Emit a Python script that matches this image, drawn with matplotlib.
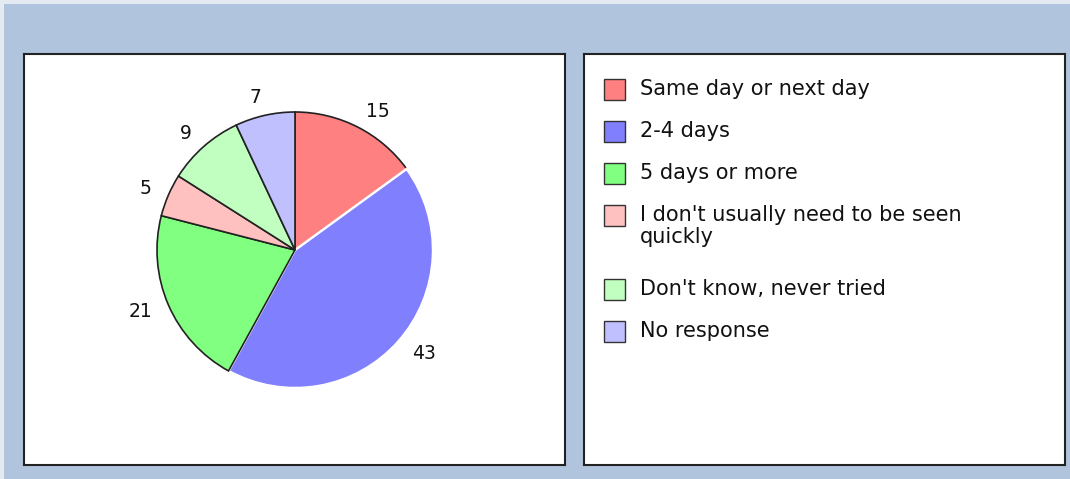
import matplotlib
matplotlib.use("Agg")
import matplotlib.pyplot as plt
from matplotlib.patches import Rectangle

categories = ["Same day or next day", "2-4 days", "5 days or more",
              "I don't usually need to be seen\nquickly",
              "Don't know, never tried", "No response"]
values = [15, 43, 21, 5, 9, 7]
colors = ["#FF8080", "#8080FF", "#80FF80", "#FFC0C0", "#C0FFC0", "#C0C0FF"]
explode = [0, 0.024, 0, 0, 0, 0]

W, H = 1070, 479
fig = plt.figure(figsize=(W / 100, H / 100), dpi=100)
fig.patch.set_facecolor("#B0C4DE")

def px_rect(x0, y0, x1, y1):
    return [x0 / W, 1 - y1 / H, (x1 - x0) / W, (y1 - y0) / H]

# light strips at top and left
fig.patches.append(Rectangle((0, 1 - 4 / H), 1, 4 / H, transform=fig.transFigure,
                             facecolor="#E4EAF2", edgecolor="none", zorder=0))
fig.patches.append(Rectangle((0, 0), 4 / W, 1, transform=fig.transFigure,
                             facecolor="#E4EAF2", edgecolor="none", zorder=0))

# ---- left panel: pie ----
L0, T0, R0, B0 = 24, 54, 565, 465
cx, cy = 295, 250
axL = fig.add_axes(px_rect(L0, T0, R0, B0))
axL.set_facecolor("white")
wedges, texts = axL.pie(values, labels=[str(v) for v in values], colors=colors,
                        startangle=90, counterclock=False, explode=explode,
                        radius=138, labeldistance=1.13, frame=True,
                        wedgeprops=dict(edgecolor="#222222", linewidth=1.2),
                        textprops=dict(fontsize=13.5, color="#111111"))
wedges[1].set_edgecolor("#FFFFFF")
wedges[1].set_linewidth(1.8)
axL.set_xlim(L0 - cx, R0 - cx)
axL.set_ylim(cy - B0, cy - T0)
axL.set_aspect("equal", adjustable="box")
axL.set_xticks([])
axL.set_yticks([])
for s in axL.spines.values():
    s.set_color("#222222")
    s.set_linewidth(1.5)

# ---- right panel: legend ----
axR = fig.add_axes(px_rect(584, T0, 1065, B0))
axR.set_facecolor("white")
axR.set_xlim(584, 1065)
axR.set_ylim(B0, T0)
axR.set_xticks([])
axR.set_yticks([])
for s in axR.spines.values():
    s.set_color("#222222")
    s.set_linewidth(1.5)

y = 89
for cat, col in zip(categories, colors):
    axR.add_patch(Rectangle((604, y - 10.5), 21, 21, facecolor=col,
                            edgecolor="#333333", linewidth=1.0))
    lines = cat.split("\n")
    for k, line in enumerate(lines):
        axR.text(640, y + 22 * k, line, fontsize=15, color="#111111",
                 va="center", ha="left")
    y += 42 + 32 * (len(lines) - 1)

fig.savefig("out.png", dpi=100, facecolor=fig.get_facecolor())
